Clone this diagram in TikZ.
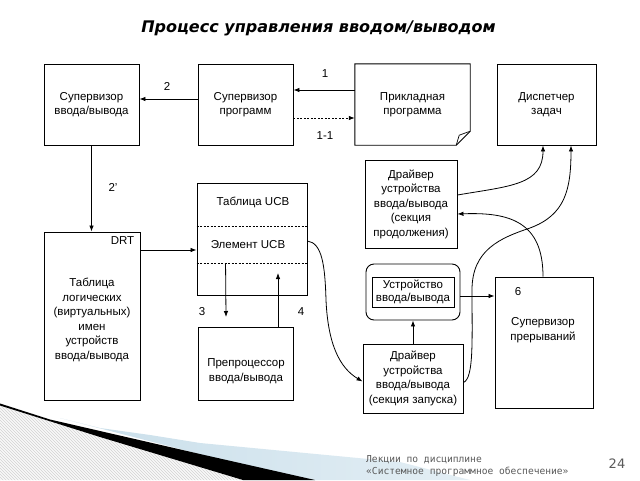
\documentclass[tikz,border=0pt]{standalone}
\usepackage{fontspec}
\setmainfont{Liberation Sans}
\newfontfamily\titlefont{DejaVu Sans}
\newfontfamily\footfont{DejaVu Sans Mono}
\newfontfamily\pagefont{DejaVu Sans}
\usetikzlibrary{arrows.meta,patterns}
\definecolor{lblue}{RGB}{200,222,234}
\definecolor{footgray}{RGB}{90,90,90}
\begin{document}
\begin{tikzpicture}[x=1pt,y=-1pt,
  txt/.style={align=center,inner sep=0pt,font=\fontsize{11.5}{14.5}\selectfont},
  box/.style={draw,line width=0.9pt,txt},
  arr/.style={line width=0.8pt,-{Latex[length=6pt,width=4.5pt]}},
  lbl/.style={font=\fontsize{11.5}{14}\selectfont,inner sep=0pt},
  rowline/.style={line width=0.5pt,dash pattern=on 2pt off 1.5pt}]
\useasboundingbox (0,0) rectangle (640,480);
\fill[white] (0,0) rectangle (640,480);

% decoration bottom left
\fill[gray!5] (0,405.5) -- (100,437) -- (243,480) -- (0,480) -- cycle;
\fill[pattern=north west lines,pattern color=gray!35] (0,405.5) -- (100,437) -- (243,480) -- (0,480) -- cycle;
\shade[left color=lblue,right color=lblue!50] (60,418) -- (100,428) -- (150,435) -- (200,443) -- (400,462) -- (470,480) -- (300,480) -- cycle;
\fill[black] (0,403.5) -- (50,419.5) -- (100,431) -- (200,454) -- (315,480) -- (243,480) -- (100,437) -- (0,405.5) -- cycle;

% title
\node[font=\titlefont\bfseries\itshape\fontsize{16}{19}\selectfont] (title) at (318.5,28) {Процесс управления вводом/выводом};

% top row
\node[box,minimum width=95pt,minimum height=81pt] (A) at (91.5,104.5) {Супервизор\\ввода/вывода};
\node[box,minimum width=95pt,minimum height=81pt] (B) at (245.5,104.5) {Супервизор\\программ};
\node[txt,minimum width=115pt,minimum height=81pt] (C) at (412.5,104.5) {Прикладная\\программа};
\draw[line width=0.9pt] (C.north west) -- (C.north east) -- ([yshift=14pt]C.south east) -- ([xshift=-14pt]C.south east) -- (C.south west) -- cycle;
\draw[line width=0.7pt] ([xshift=-14pt]C.south east) -- ([xshift=-11pt,yshift=10pt]C.south east) -- ([yshift=14pt]C.south east);
\node[box,minimum width=99pt,minimum height=81pt] (D) at (546.5,104.5) {Диспетчер\\задач};

% DRT
\node[box,minimum width=96pt,minimum height=168pt] (DRT) at (92,316) {};
\node[lbl,anchor=north east] (drtlbl) at ([xshift=-6pt,yshift=-5pt]DRT.north east) {DRT};
\node[txt] (drttxt) at (92,320) {Таблица\\логических\\(виртуальных)\\имен\\устройств\\ввода/вывода};

% UCB table
\node[box,minimum width=110pt,minimum height=112pt] (UCB) at (252,239) {};
\draw[rowline] ([yshift=-44pt]UCB.north west) -- ([yshift=-44pt]UCB.north east);
\draw[rowline] ([yshift=-81pt]UCB.north west) -- ([yshift=-81pt]UCB.north east);
\node[lbl] (ucbT) at (253,202) {Таблица UCB};
\node[lbl] (ucbE) at (248,245) {Элемент UCB};

% preprocessor
\node[box,minimum width=95pt,minimum height=73pt] (Pre) at (245.5,363.5) {};
\node[txt] (pretxt) at (246,371) {Препроцессор\\ввода/вывода};

% driver continuation
\node[box,minimum width=92pt,minimum height=88pt] (Cont) at (411,204) {Драйвер\\устройства\\ввода/вывода\\(секция\\продолжения)};

% device
\node[draw,line width=0.9pt,rounded corners=8pt,minimum width=94pt,minimum height=56pt,inner sep=0pt] (Dev) at (413,292) {};
\node[box,minimum width=82pt,minimum height=30pt,font=\fontsize{11.5}{13}\selectfont] (DevIn) at (413,292) {Устройство\\ввода/вывода};

% driver start
\node[box,minimum width=100pt,minimum height=69pt] (Start) at (413,378.5) {Драйвер\\устройства\\ввода/вывода\\(секция запуска)};

% interrupt supervisor
\node[box,minimum width=98pt,minimum height=131pt] (Int) at (544,342.5) {};
\node[lbl] (six) at (518,292) {6};
\node[txt] (inttxt) at (543,330) {Супервизор\\прерываний};

% arrows top
\draw[arr] ([yshift=14.5pt]C.west) -- ([yshift=14.5pt]B.east);
\node[lbl] (l1) at (325,74) {1};
\draw[arr,dash pattern=on 2pt off 1.5pt] ([yshift=-13.5pt]B.east) -- ([yshift=-13.5pt]C.west);
\node[lbl] (l11) at (325,136) {1-1};
\draw[arr] ([yshift=5.5pt]B.west) -- ([yshift=5.5pt]A.east);
\node[lbl] (l2) at (167,86) {2};
\draw[arr] (A.south) -- (A.south |- DRT.north);
\node[lbl] (l2p) at (113,187) {2'};

% DRT -> UCB
\coordinate (p) at ([yshift=66pt]DRT.east);
\draw[arr] (p) -- (p -| UCB.west);

% 3 and 4
\coordinate (s3) at ([xshift=29pt,yshift=-81pt]UCB.north west);
\coordinate (t3) at (226,317);
\draw[arr] (s3) -- (t3);
\node[lbl] (l3) at (202,312) {3};
\coordinate (t4) at (278,273);
\draw[arr] (Pre.north -| t4) -- (t4);
\node[lbl] (l4) at (301,312) {4};

% UCB -> driver start
\draw[arr] ([yshift=-2pt]UCB.east) .. controls (322,243) and (325,265) .. (326,300) .. controls (328,345) and (340,368) .. ([yshift=-3pt]Start.west);

% driver start -> device, device -> interrupt
\draw[arr] (Start.north) -- (Dev.south);
\draw[arr] ([yshift=-4pt]Dev.east) -- ([yshift=-4pt]Dev.east -| Int.west);

% driver continuation -> dispatcher
\draw[arr] ([yshift=9pt]Cont.east) .. controls (510,186) and (543,185) .. ([xshift=-3.5pt]D.south);
% driver start -> dispatcher
\draw[arr] ([yshift=-4pt]Start.east) .. controls (474,378) and (472,340) .. (472,290) .. controls (472,250) and (500,238) .. (530,228) .. controls (565,215) and (571,190) .. ([xshift=24.5pt]D.south);
% interrupt -> driver continuation
\draw[arr] ([xshift=-1pt]Int.north) .. controls (543,222) and (510,212) .. ([yshift=-10pt]Cont.east);

% footer
\node[font=\footfont\fontsize{9.6}{12}\selectfont,text=footgray,align=left,anchor=west,inner sep=0pt] (foot) at (366,466) {Лекции по дисциплине\\«Системное программное обеспечение»};
\node[font=\pagefont\fontsize{13}{15}\selectfont,text=footgray] (page) at (617,464) {24};
\end{tikzpicture}
\end{document}
